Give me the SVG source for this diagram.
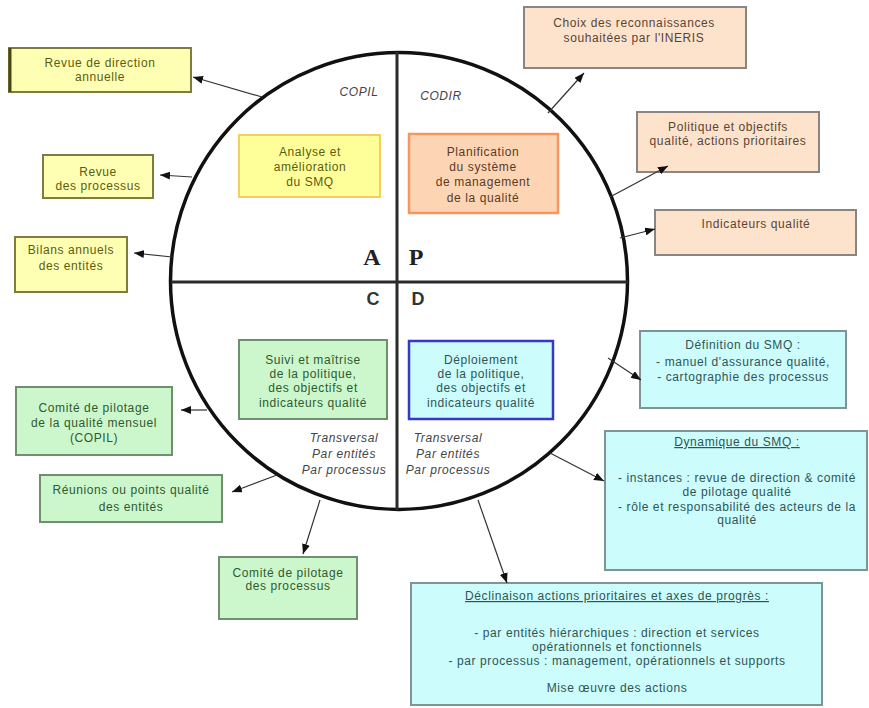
<svg xmlns="http://www.w3.org/2000/svg" width="869" height="708" viewBox="0 0 869 708">
  <defs>
    <marker id="arrow" markerUnits="userSpaceOnUse" markerWidth="10" markerHeight="8" refX="10" refY="4" orient="auto">
      <path d="M0,0 L10,4 L0,8 z" fill="#111"/>
    </marker>
    <style>
      text { font-family: "Liberation Sans", Arial, sans-serif; font-size: 12px; letter-spacing: 0.6px; text-anchor: middle; }
      .yo rect { fill: #ffffb3; stroke: #7d7d40; stroke-width: 2; }
      .yo text { fill: #5c5c10; }
      .yi rect { fill: #ffff99; stroke: #f2d060; stroke-width: 2; }
      .yi text { fill: #5c5c10; }
      .oo rect { fill: #fde3cc; stroke: #8a8580; stroke-width: 2; }
      .oo text { fill: #5a4535; }
      .oi rect { fill: #fdd5b5; stroke: #f59660; stroke-width: 2.5; }
      .oi text { fill: #5a3a25; }
      .g rect { fill: #ccf7cc; stroke: #6f8f6f; stroke-width: 2; }
      .g text { fill: #2f5a2f; }
      .c rect { fill: #ccfcfc; stroke: #7f9595; stroke-width: 2; }
      .c text { fill: #2f5555; }
      .ci rect { fill: #ccfcfc; stroke: #3838c8; stroke-width: 2.5; }
      .ci text { fill: #2f5555; }
      .note { font-style: italic; fill: #444; }
      .u { text-decoration: underline; }
      .conn line { stroke: #333; stroke-width: 1.2; marker-end: url(#arrow); }
    </style>
  </defs>

  <rect x="0" y="0" width="869" height="708" fill="#ffffff"/>

  <!-- PDCA wheel -->
  <g id="wheel">
    <circle cx="399" cy="281" r="228.5" fill="none" stroke="#111" stroke-width="3.5"/>
    <line x1="397" y1="52" x2="397" y2="510" stroke="#2a2a2a" stroke-width="3"/>
    <line x1="171" y1="282" x2="628" y2="282" stroke="#2a2a2a" stroke-width="3"/>
    <text x="372" y="265" style="font-family:'Liberation Serif','Times New Roman',serif;font-size:24px;font-weight:bold;letter-spacing:0" fill="#222">A</text>
    <text x="416" y="265" style="font-family:'Liberation Serif','Times New Roman',serif;font-size:24px;font-weight:bold;letter-spacing:0" fill="#222">P</text>
    <text x="373" y="305" style="font-size:18px;font-weight:bold;letter-spacing:0" fill="#333">C</text>
    <text x="418" y="305" style="font-size:18px;font-weight:bold;letter-spacing:0" fill="#333">D</text>
    <text class="note" x="359" y="96">COPIL</text>
    <text class="note" x="441" y="100">CODIR</text>
    <text class="note" x="344" y="442">Transversal</text>
    <text class="note" x="344" y="458">Par entités</text>
    <text class="note" x="344" y="474">Par processus</text>
    <text class="note" x="448" y="442">Transversal</text>
    <text class="note" x="448" y="458">Par entités</text>
    <text class="note" x="448" y="474">Par processus</text>
  </g>

  <!-- Act -->
  <g id="revue-direction" class="yo">
    <rect x="9" y="48" width="182" height="44"/>
    <line x1="10" y1="48" x2="10" y2="92" stroke="#4a4a10" stroke-width="3"/>
    <text x="100" y="67">Revue de direction</text>
    <text x="100" y="81">annuelle</text>
  </g>
  <g id="revue-processus" class="yo">
    <rect x="43" y="155" width="110" height="43"/>
    <text x="98" y="176">Revue</text>
    <text x="98" y="190">des processus</text>
  </g>
  <g id="bilans" class="yo">
    <rect x="15" y="237" width="112" height="55"/>
    <text x="71" y="254">Bilans annuels</text>
    <text x="71" y="270">des entités</text>
  </g>
  <g id="analyse" class="yi">
    <rect x="239" y="135" width="141" height="62"/>
    <text x="310" y="156">Analyse et</text>
    <text x="310" y="171">amélioration</text>
    <text x="310" y="186">du SMQ</text>
  </g>

  <!-- Plan -->
  <g id="planification" class="oi">
    <rect x="409" y="134" width="149" height="79"/>
    <text x="483" y="156">Planification</text>
    <text x="483" y="171">du système</text>
    <text x="483" y="186">de management</text>
    <text x="483" y="202">de la qualité</text>
  </g>
  <g id="choix" class="oo">
    <rect x="524" y="7" width="222" height="61"/>
    <text x="634" y="27">Choix des reconnaissances</text>
    <text x="634" y="42">souhaitées par l'INERIS</text>
  </g>
  <g id="politique" class="oo">
    <rect x="637" y="112" width="182" height="60"/>
    <text x="728" y="131">Politique et objectifs</text>
    <text x="728" y="145">qualité, actions prioritaires</text>
  </g>
  <g id="indicateurs" class="oo">
    <rect x="655" y="210" width="201" height="45"/>
    <text x="756" y="228">Indicateurs qualité</text>
  </g>

  <!-- Check -->
  <g id="suivi" class="g">
    <rect x="239" y="340" width="148" height="79"/>
    <text x="313" y="364">Suivi et maîtrise</text>
    <text x="313" y="378">de la politique,</text>
    <text x="313" y="392">des objectifs et</text>
    <text x="313" y="407">indicateurs qualité</text>
  </g>
  <g id="copil" class="g">
    <rect x="16" y="387" width="156" height="68"/>
    <text x="94" y="412">Comité de pilotage</text>
    <text x="94" y="427">de la qualité mensuel</text>
    <text x="94" y="442">(COPIL)</text>
  </g>
  <g id="reunions" class="g">
    <rect x="40" y="475" width="182" height="47"/>
    <text x="131" y="494">Réunions ou points qualité</text>
    <text x="131" y="511">des entités</text>
  </g>
  <g id="comite-processus" class="g">
    <rect x="219" y="557" width="138" height="62"/>
    <text x="288" y="577">Comité de pilotage</text>
    <text x="288" y="590">des processus</text>
  </g>

  <!-- Do -->
  <g id="deploiement" class="ci">
    <rect x="409" y="341" width="144" height="78"/>
    <text x="481" y="364">Déploiement</text>
    <text x="481" y="378">de la politique,</text>
    <text x="481" y="392">des objectifs et</text>
    <text x="481" y="407">indicateurs qualité</text>
  </g>
  <g id="definition" class="c">
    <rect x="640" y="331" width="206" height="77"/>
    <text x="743" y="349">Définition du SMQ :</text>
    <text x="743" y="366">- manuel d'assurance qualité,</text>
    <text x="743" y="381">- cartographie des processus</text>
  </g>
  <g id="dynamique" class="c">
    <rect x="605" y="431" width="262" height="139"/>
    <text class="u" x="737" y="446">Dynamique du SMQ :</text>
    <text x="737" y="482">- instances : revue de direction &amp; comité</text>
    <text x="737" y="496">de pilotage  qualité</text>
    <text x="737" y="511">- rôle et responsabilité des acteurs de la</text>
    <text x="737" y="524">qualité</text>
  </g>
  <g id="declinaison" class="c">
    <rect x="411" y="583" width="411" height="122"/>
    <text class="u" x="617" y="600">Déclinaison actions prioritaires et axes de progrès :</text>
    <text x="617" y="637">- par entités hiérarchiques : direction et services</text>
    <text x="617" y="651">opérationnels et fonctionnels</text>
    <text x="617" y="665">- par processus : management, opérationnels et supports</text>
    <text x="617" y="692">Mise œuvre des actions</text>
  </g>

  <!-- Connectors -->
  <g id="connectors" class="conn">
    <line x1="262" y1="97" x2="193" y2="77"/>
    <line x1="192" y1="177" x2="160" y2="175"/>
    <line x1="172" y1="257" x2="134" y2="253"/>
    <line x1="548" y1="113" x2="584" y2="73"/>
    <line x1="610" y1="197" x2="668" y2="166"/>
    <line x1="620" y1="238" x2="655" y2="229"/>
    <line x1="608" y1="358" x2="641" y2="380"/>
    <line x1="550" y1="453" x2="604" y2="481"/>
    <line x1="478" y1="500" x2="507" y2="583"/>
    <line x1="207" y1="410" x2="181" y2="410"/>
    <line x1="277" y1="475" x2="232" y2="492"/>
    <line x1="320" y1="500" x2="303" y2="554"/>
  </g>
</svg>
